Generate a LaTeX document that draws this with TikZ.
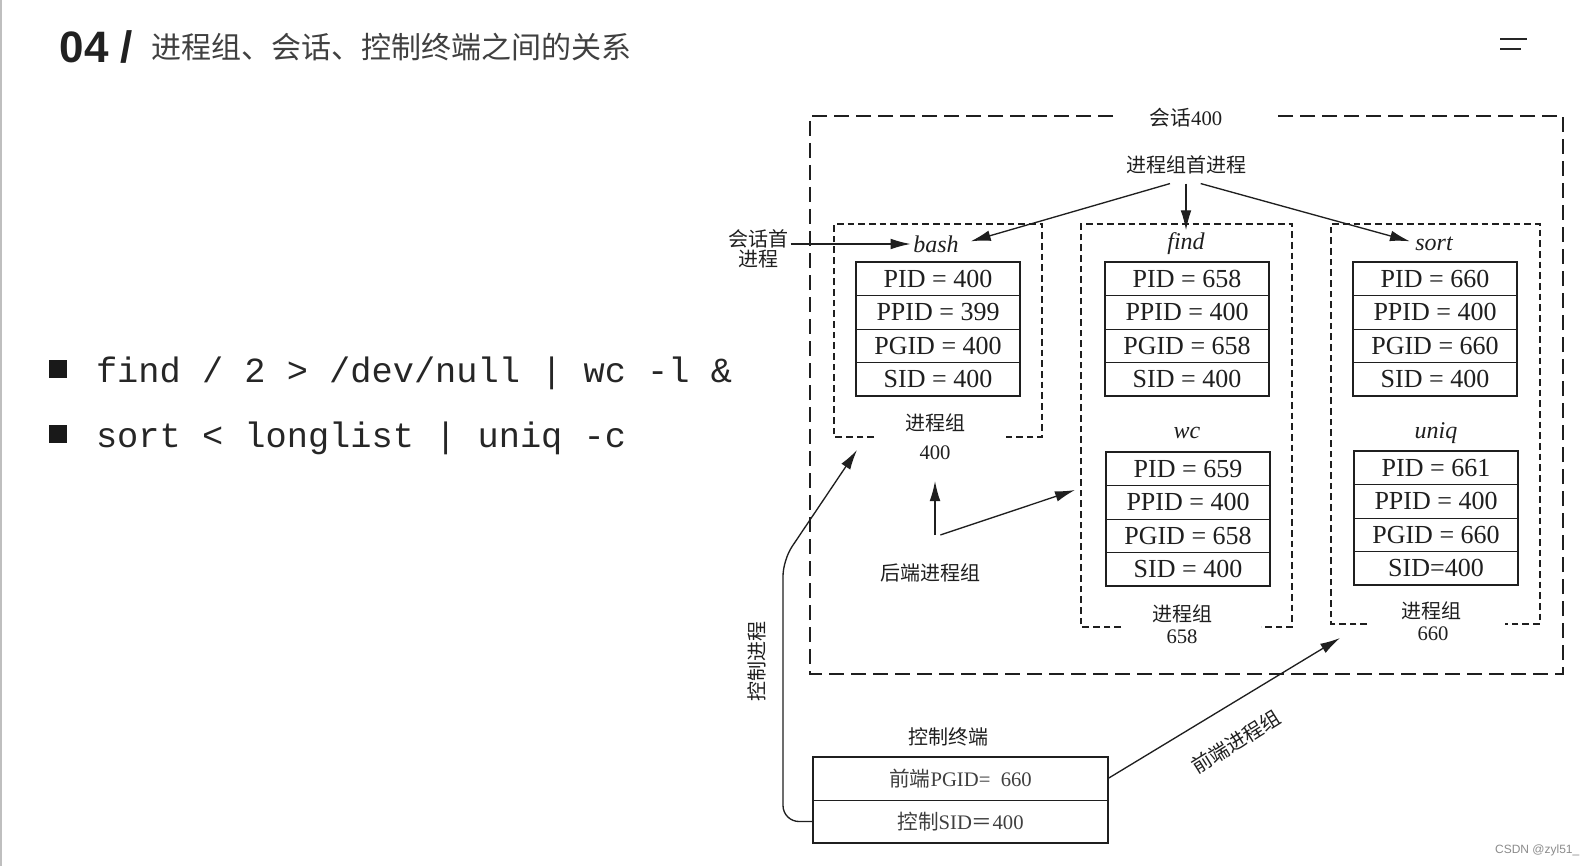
\documentclass[tikz,border=0pt]{standalone}
\usepackage{fontspec}
\setmainfont{Liberation Serif}
\setsansfont{Liberation Sans}
\setmonofont{Liberation Mono}
\newfontfamily\cjk{Noto Sans CJK SC}
\usetikzlibrary{arrows.meta}
\newcommand\ptable[7]{%
  \node[rowbox] (#1a) at (#2,#3+16.75) {#4};
  \node[rowbox] (#1b) at (#2,#3+50.25) {#5};
  \node[rowbox] (#1c) at (#2,#3+83.75) {#6};
  \node[rowbox] (#1d) at (#2,#3+117.25) {#7};
  \draw[tblframe] (#1a.north west) rectangle (#1d.south east);
}
\begin{document}
\begin{tikzpicture}[x=0.75pt,y=-0.75pt,
  every node/.style={inner sep=2pt, outer sep=0pt, text=black!88},
  outerdash/.style={line width=1.7pt, dash pattern=on 11pt off 5.5pt, draw=black!88},
  grpdash/.style={line width=1.5pt, dash pattern=on 5pt off 3pt, draw=black!88},
  rowbox/.style={draw=black!88, line width=0.7pt, minimum width=123pt, minimum height=25.1pt, inner sep=0pt, font=\fontsize{19.5}{20}\selectfont},
  tblframe/.style={line width=1.8pt, draw=black!88},
  termrow/.style={draw=black!88, line width=0.7pt, minimum width=221.25pt, minimum height=32.25pt, inner sep=0pt, font=\fontsize{15.5}{17}\selectfont, text=black!75},
  cnlab/.style={font=\cjk\fontsize{15}{17}\selectfont},
  numlab/.style={font=\fontsize{15.5}{17}\selectfont},
  proc/.style={font=\itshape\fontsize{18}{20}\selectfont},
  arr/.style={line width=1pt, draw=black!88, -{Latex[length=15pt,width=8pt]}},
]
\useasboundingbox[fill=white] (0,0) rectangle (1594,866);
\draw[black!25, line width=1pt] (1,0) -- (1,866);

% header
\node[anchor=west, font=\sffamily\bfseries\fontsize{33}{36}\selectfont, text=black!87] (num) at (57,47) {04 /};
\node[anchor=west, font=\cjk\fontsize{22.5}{24}\selectfont, text=black!75] (title) at (149,47) {进程组、会话、控制终端之间的关系};
\draw[line width=2pt, black!85] (1500,39) -- (1527,39);
\draw[line width=2pt, black!85] (1500,49) -- (1521,49);

% bullets
\node[fill=black!90, minimum size=13.5pt, inner sep=0pt] (b1) at (58,369) {};
\node[fill=black!90, minimum size=13.5pt, inner sep=0pt] (b2) at (58,434) {};
\node[anchor=west, inner sep=0pt, font=\ttfamily\fontsize{26.5}{28}\selectfont, text=black!85] (c1) at (96,373) {find / 2 > /dev/null | wc -l \&};
\node[anchor=west, inner sep=0pt, font=\ttfamily\fontsize{26.5}{28}\selectfont, text=black!85] (c2) at (96,438) {sort < longlist | uniq -c};

% session box
\draw[outerdash] (1113,116) -- (810,116) -- (810,674) -- (1563,674) -- (1563,116) -- (1271,116);
\node[numlab] (sess) at (1186,118) {{\cjk 会话}400};
\node[cnlab] (pgl) at (1186,165) {进程组首进程};

% process groups
\draw[grpdash] (874,437) -- (834,437) -- (834,224) -- (1042,224) -- (1042,437) -- (1006,437);
\draw[grpdash] (1121,627) -- (1081,627) -- (1081,224) -- (1292,224) -- (1292,627) -- (1261,627);
\draw[grpdash] (1367,624) -- (1331,624) -- (1331,224) -- (1540,224) -- (1540,624) -- (1505,624);

\node[proc] (bash) at (936,244) {bash};
\node[proc] (find) at (1186,244) {find};
\node[proc] (sort) at (1434,244) {sort};
\node[proc] (wc) at (1187,433) {wc};
\node[proc] (uniq) at (1436,433) {uniq};

\ptable{bt}{938}{262}{PID = 400}{PPID = 399}{PGID = 400}{SID = 400}
\ptable{ft}{1187}{262}{PID = 658}{PPID = 400}{PGID = 658}{SID = 400}
\ptable{st}{1435}{262}{PID = 660}{PPID = 400}{PGID = 660}{SID = 400}
\ptable{wt}{1188}{452}{PID = 659}{PPID = 400}{PGID = 658}{SID = 400}
\ptable{ut}{1436}{451}{PID = 661}{PPID = 400}{PGID = 660}{SID=400}

\node[cnlab] (bgl) at (935,423) {进程组};
\node[numlab] (bnum) at (935,453) {400};
\node[cnlab] (fgl) at (1182,614) {进程组};
\node[numlab] (fnum) at (1182,637) {658};
\node[cnlab] (sgl) at (1431,611) {进程组};
\node[numlab] (snum) at (1433,634) {660};

% session leader
\node[cnlab, align=center, font=\cjk\fontsize{15}{15.5}\selectfont] (sl) at (758,249) {会话首\\进程};
\draw[arr] (sl.east |- bash.west) -- (bash.west);

% group leader arrows
\draw[arr] ([xshift=-12pt,yshift=-5pt]pgl.south) -- ([xshift=7pt,yshift=2pt]bash.east);
\draw[arr] ([yshift=-5pt]pgl.south) -- (find.north);
\draw[arr] ([xshift=11pt,yshift=-5pt]pgl.south) -- ([xshift=-2pt,yshift=2pt]sort.west);

% background groups
\node[cnlab] (hd) at (930,573) {后端进程组};
\coordinate (hdtop) at (935,535);
\coordinate (bgtgt) at (935,481);
\coordinate (fgtgt) at (1075,490);
\draw[arr] (hdtop) -- (bgtgt);
\draw[arr] ([xshift=4pt]hdtop) -- (fgtgt);

% controlling terminal
\node[cnlab] (ctl) at (948,737) {控制终端};
\node[termrow] (tt1) at (960.5,778.5) {{\cjk 前端}PGID=\ \ 660};
\node[termrow] (tt2) at (960.5,821.5) {{\cjk 控制}SID{\cjk ＝}400};
\draw[tblframe] (tt1.north west) rectangle (tt2.south east);

\coordinate (bgcorner) at (857,450);
\draw[arr, rounded corners=12pt] (tt2.west) -- (783,821.5) -- (783,560) -- (bgcorner);
\node[cnlab, rotate=90] (cp) at (757,661) {控制进程};

\coordinate (sgcorner) at (1340,638);
\draw[arr] (tt1.east) -- (sgcorner);
\node[cnlab, rotate=32] (fg) at (1236,742) {前端进程组};

% watermark
\node[anchor=east, font=\sffamily\fontsize{9}{10}\selectfont, text=black!45] (wm) at (1582,850) {CSDN @zyl51\_};
\end{tikzpicture}
\end{document}
